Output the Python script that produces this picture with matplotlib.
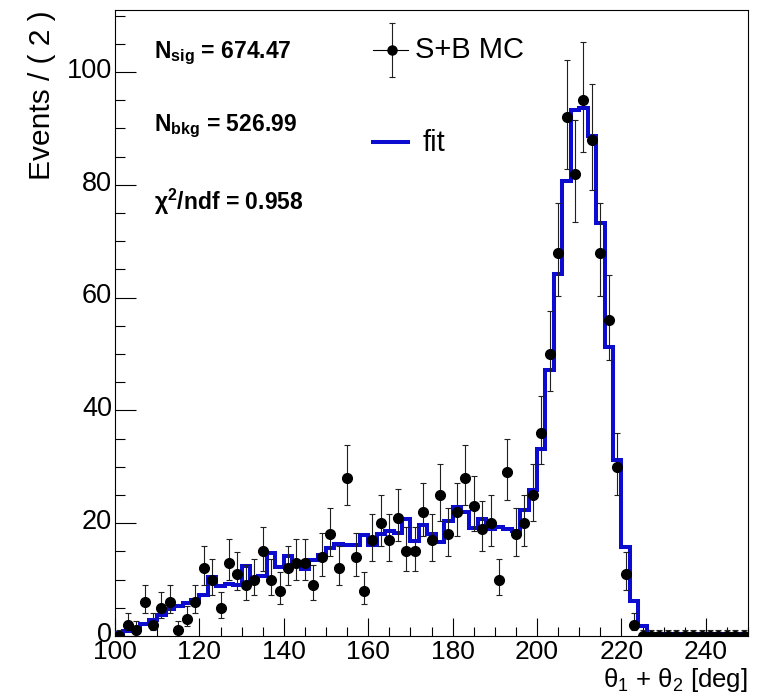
import numpy as np
import matplotlib
matplotlib.use("Agg")
import matplotlib.pyplot as plt
import matplotlib.transforms as mtransforms
from matplotlib.ticker import MultipleLocator

plt.rcParams['font.family'] = ['Liberation Sans', 'DejaVu Sans']
plt.rcParams['mathtext.fontset'] = 'custom'
plt.rcParams['mathtext.rm'] = 'Liberation Sans'
plt.rcParams['mathtext.it'] = 'Liberation Sans:italic'
plt.rcParams['mathtext.bf'] = 'Liberation Sans:bold'

# ---- data -------------------------------------------------------------
bin_edges = np.arange(100, 252, 2)          # 75 bins of width 2 deg
bin_centers = 0.5 * (bin_edges[:-1] + bin_edges[1:])

counts = [0, 2, 1, 6, 2, 5, 6, 1, 3, 6,
          12, 10, 5, 13, 11, 9, 10, 15, 10, 8,
          12, 13, 13, 9, 14, 18, 12, 28, 14, 8,
          17, 20, 17, 21, 15, 15, 22, 17, 25, 18,
          22, 28, 23, 19, 20, 10, 29, 18, 20, 25,
          36, 50, 68, 92, 82, 95, 88, 68, 56, 30,
          11, 2, 0, 0, 0, 0, 0, 0, 0, 0,
          0, 0, 0, 0, 0]

fit_values = [0.6, 0.8, 1.5, 2.2, 2.9, 3.8, 4.8, 5.4, 5.8, 6.4,
              7.3, 10.5, 8.9, 9.3, 9.1, 12.4, 10.1, 10.7, 14.7, 12.2,
              14.1, 13.1, 11.9, 13.4, 14.3, 15.6, 16.3, 16.1, 16.1, 17.9,
              16.1, 18.0, 18.7, 18.3, 20.8, 16.9, 19.6, 18.1, 16.6, 20.4,
              22.8, 22.0, 19.2, 20.8, 19.0, 19.4, 18.9, 18.7, 22.3, 25.8,
              33.2, 47.1, 64.1, 80.7, 93.2, 93.6, 88.7, 73.3, 51.3, 31.2,
              15.7, 6.2, 1.8, 0.3, 0.3, 0.3, 0.3, 0.3, 0.3, 0.3,
              0.3, 0.3, 0.3, 0.3, 0.3]

x_ticks = [100, 120, 140, 160, 180, 200, 220, 240]
y_ticks = [0, 20, 40, 60, 80, 100]

n_sig_text = r"$\mathbf{N_{sig}}$ = 674.47"
n_bkg_text = r"$\mathbf{N_{bkg}}$ = 526.99"
chi2_text = r"χ$^{\mathbf{2}}$/ndf = 0.958"

# ---- figure -------------------------------------------------------------
W, H = 757, 693
fig = plt.figure(figsize=(W / 100, H / 100), dpi=100)
ax = fig.add_axes([115 / W, (H - 636) / H, (748 - 115) / W, (636 - 10) / H])

cnt = np.array(counts, dtype=float)
err_lo = np.sqrt(cnt + 0.25) - 0.5
err_hi = np.sqrt(cnt + 0.25) + 0.5
err_lo = np.minimum(err_lo, cnt)

blue = '#0c0cd0'
ax.stairs(fit_values, bin_edges, baseline=None, color=blue, lw=2.9, zorder=3)
ax.errorbar(bin_centers, cnt, yerr=[err_lo, err_hi], fmt='o', color='black',
            ms=7, elinewidth=0.8, ecolor='#202020', capsize=2.0, capthick=0.8,
            zorder=4)

ax.set_xlim(100, 250)
ax.set_ylim(0, 111)
ax.set_xticks(x_ticks)
ax.set_yticks(y_ticks)
ax.xaxis.set_minor_locator(MultipleLocator(5))
ax.yaxis.set_minor_locator(MultipleLocator(5))
ax.tick_params(axis='x', which='major', direction='in', labelsize=19,
               width=0.8, length=13, pad=3)
ax.tick_params(axis='y', which='major', direction='in', labelsize=19.5,
               width=0.8, length=15, pad=2)
ax.tick_params(axis='x', which='minor', direction='in', length=6.5, width=0.8)
ax.tick_params(axis='y', which='minor', direction='in', length=7.5, width=0.8)
for s in ax.spines.values():
    s.set_linewidth(0.8)

# lift the y tick labels slightly (as in the ROOT canvas)
up = mtransforms.ScaledTranslation(0, 3 / 72, fig.dpi_scale_trans)
for lab in ax.get_yticklabels():
    lab.set_transform(lab.get_transform() + up)

ax.set_ylabel('Events / ( 2 )', fontsize=21.5, loc='top', labelpad=8)
ax.set_xlabel(r'θ$_1$ + θ$_2$ [deg]', fontsize=18.5, loc='right', labelpad=1)

# annotations
ax.text(0.0616, 0.9228, n_sig_text, transform=ax.transAxes, fontsize=16.5,
        fontweight='bold', va='baseline', ha='left')
ax.text(0.0616, 0.807, n_bkg_text, transform=ax.transAxes, fontsize=16.5,
        fontweight='bold', va='baseline', ha='left')
ax.text(0.0616, 0.680, chi2_text, transform=ax.transAxes, fontsize=16.5,
        fontweight='bold', va='baseline', ha='left')

# legend (drawn by hand, ROOT style)
lx, ly = 0.4376, 0.9357
ax.plot([0.4076, 0.4629], [ly, ly], transform=ax.transAxes, color='black', lw=0.8, zorder=5)
ax.plot([lx, lx], [ly - 0.0434, ly + 0.0434], transform=ax.transAxes, color='#202020', lw=0.8, zorder=5)
ax.plot([lx, lx], [ly - 0.0434, ly + 0.0434], transform=ax.transAxes, ls='none',
        marker='_', ms=5, mew=0.8, color='#202020', zorder=5)
ax.plot([lx], [ly], transform=ax.transAxes, marker='o', ms=6.5, color='black', zorder=6)
ax.text(0.474, 0.9228, 'S+B MC', transform=ax.transAxes, fontsize=21,
        va='baseline', ha='left')
ax.plot([0.4076, 0.4629], [0.789, 0.789], transform=ax.transAxes, color=blue, lw=2.9)
ax.text(0.4866, 0.775, 'fit', transform=ax.transAxes, fontsize=21,
        va='baseline', ha='left')

fig.savefig('out.png', dpi=100)
